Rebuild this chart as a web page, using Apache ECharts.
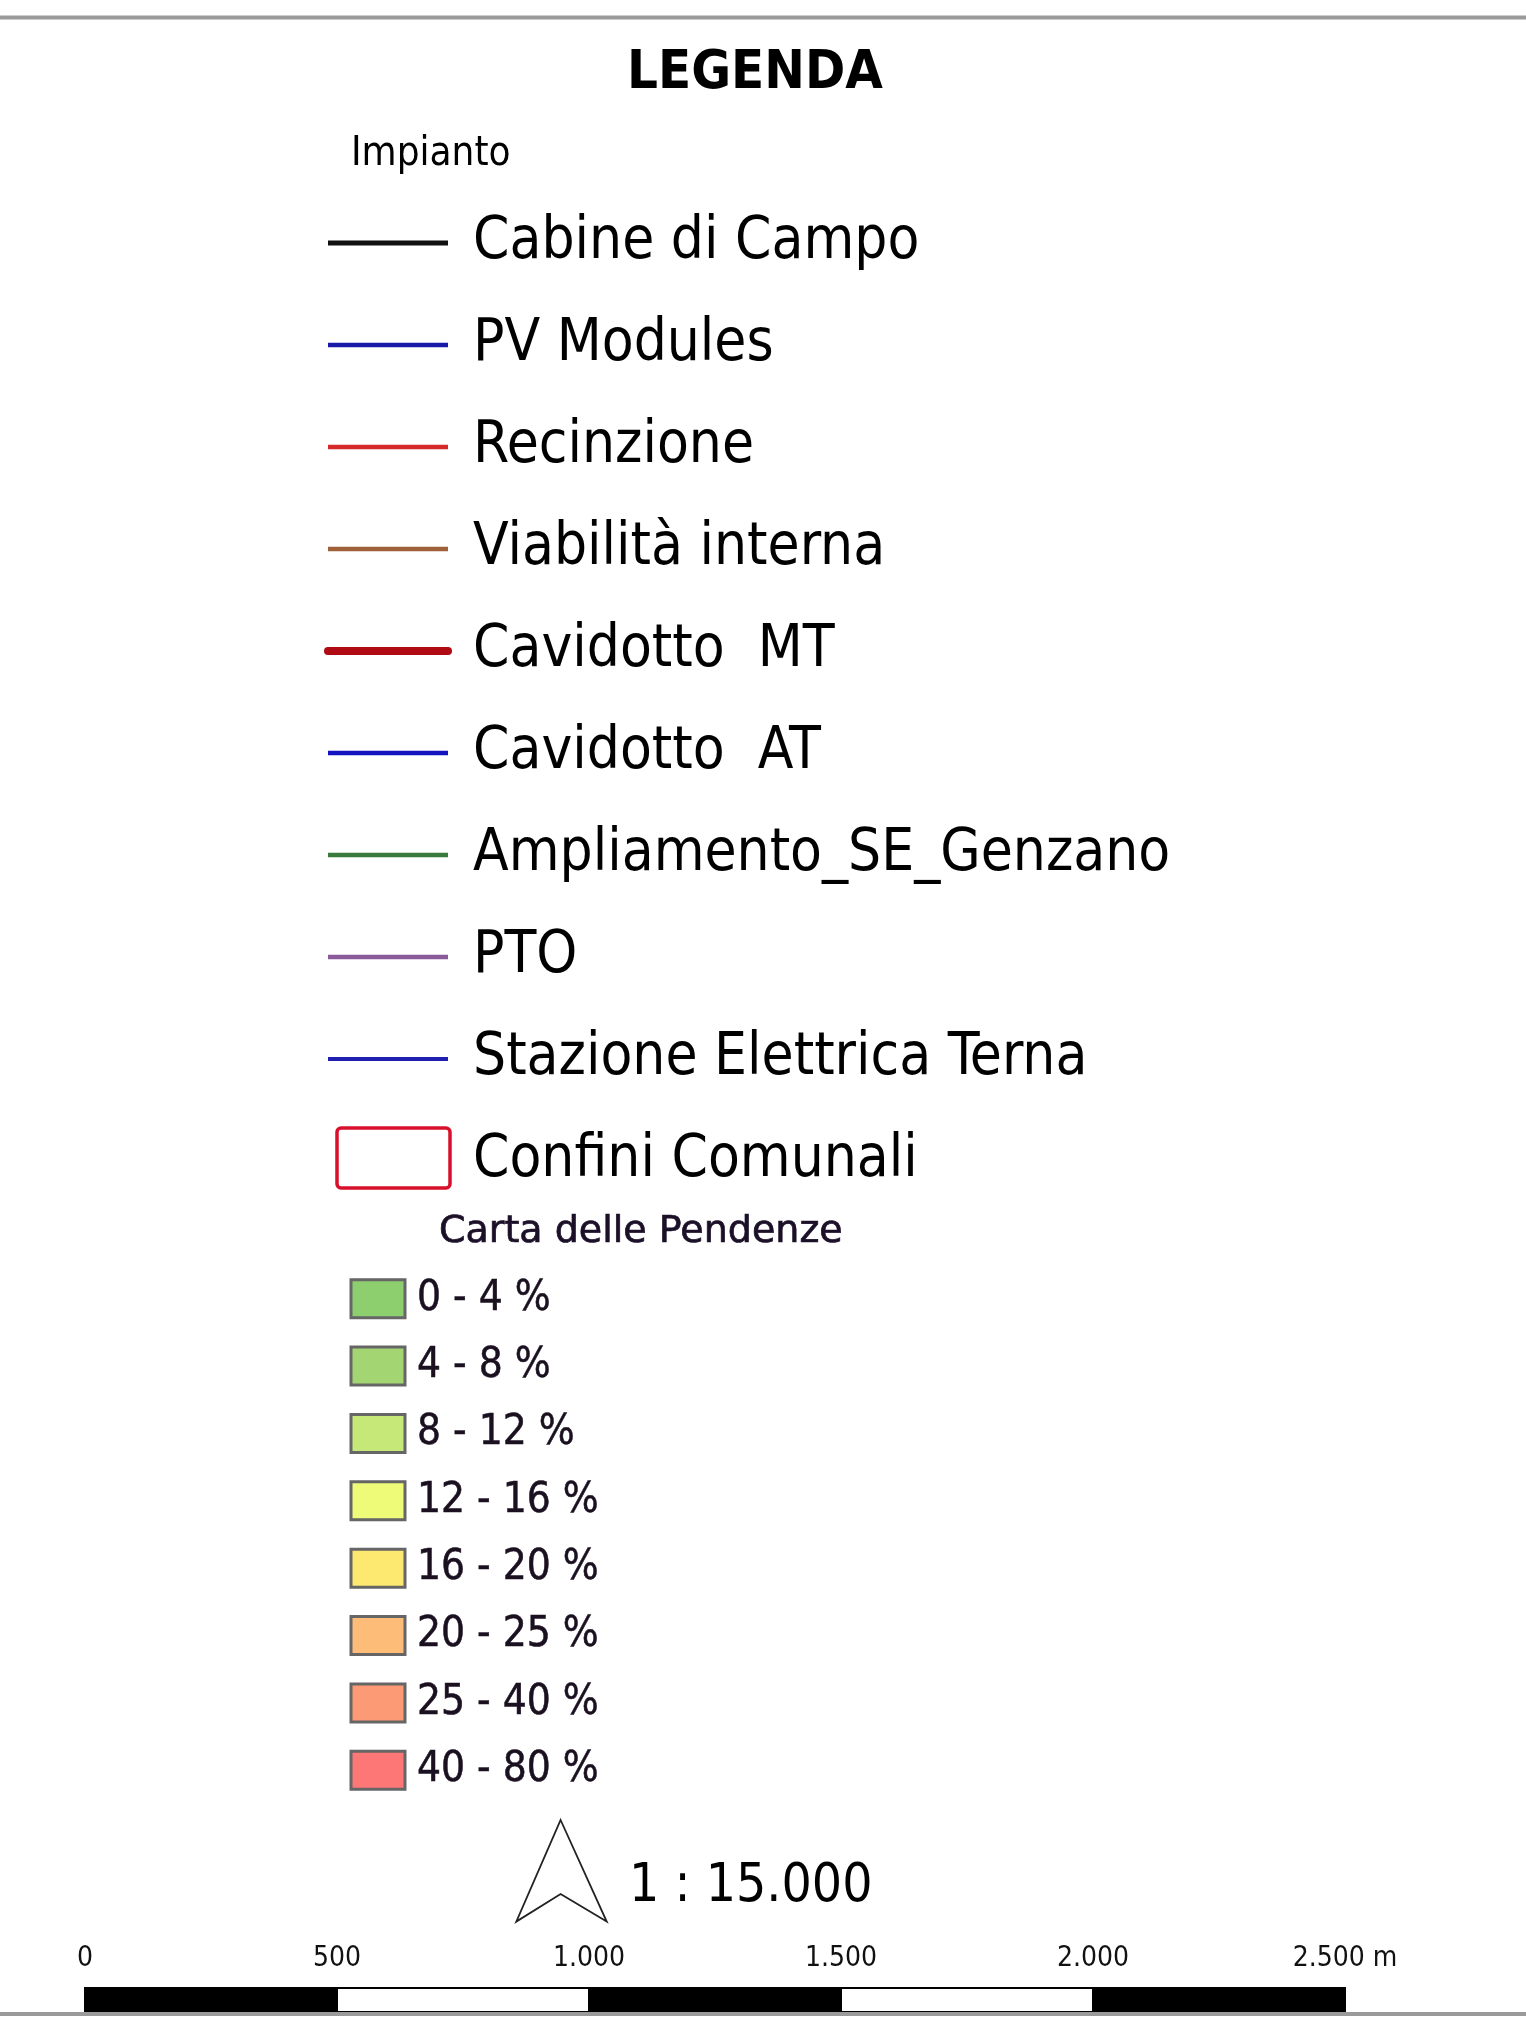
<!DOCTYPE html>
<html>
<head>
<meta charset="utf-8">
<title>Legenda</title>
<script src="https://cdn.jsdelivr.net/npm/echarts@6/dist/echarts.min.js"></script>
<style>
html, body { margin: 0; padding: 0; background: #fff; }
#main { width: 1526px; height: 2022px; }
</style>
</head>
<body>
<div id="main"></div>
<script>
// voci del gruppo "Impianto"
const impiantoItems = ['Cabine di Campo', 'PV Modules', 'Recinzione', 'Viabilità interna', 'Cavidotto  MT',
    'Cavidotto  AT', 'Ampliamento_SE_Genzano', 'PTO', 'Stazione Elettrica Terna', 'Confini Comunali'];
const impiantoKinds = ['line', 'line', 'line', 'line', 'line', 'line', 'line', 'line', 'line', 'box'];
// classi della carta delle pendenze
const pendenzeClasses = ['0 - 4 %', '4 - 8 %', '8 - 12 %', '12 - 16 %', '16 - 20 %', '20 - 25 %', '25 - 40 %', '40 - 80 %'];
// scala grafica in metri
const scaleTicks = [0, 500, 1000, 1500, 2000, 2500];
const scaleLabels = ['0', '500', '1.000', '1.500', '2.000', '2.500 m'];

// stili
const impiantoColors = ['#111111', '#1a1aa8', '#d42a2a', '#a0603a', '#b00a14', '#1212c0', '#3a7a3a', '#8a5a9a', '#2020b0', '#d8102c'];
const impiantoWidths = [5, 4.5, 4.5, 4.5, 8, 4.5, 4.5, 4.5, 4, 3.5];
const pendenzeColors = ['#8dcf6e', '#a3d673', '#c6e878', '#eefb78', '#fde870', '#fdbd78', '#fc9a75', '#fd7777'];

const COND = "'DejaVu Sans Condensed', 'DejaVu Sans', sans-serif";
const REG = "'DejaVu Sans', sans-serif";

const chart = echarts.init(document.getElementById('main'));

chart.setOption({
    backgroundColor: '#fff',
    animation: false,
    grid: [
        { left: 328, width: 120, top: 192, height: 1020 },
        { left: 351, width: 54, top: 1265, height: 539 },
        { left: 85, width: 1260, top: 1988, height: 24 }
    ],
    xAxis: [
        { gridIndex: 0, type: 'value', min: 0, max: 1, show: false },
        { gridIndex: 1, type: 'value', min: 0, max: 1, show: false },
        {
            gridIndex: 2, type: 'value', min: 0, max: 2500, interval: 500, position: 'top',
            axisLine: { show: false }, axisTick: { show: false }, splitLine: { show: false },
            axisLabel: {
                margin: 29, verticalAlign: 'middle', fontSize: 28, fontFamily: COND, color: '#111',
                formatter: v => scaleLabels[scaleTicks.indexOf(v)]
            }
        }
    ],
    yAxis: [
        {
            gridIndex: 0, type: 'category', data: impiantoItems, inverse: true, position: 'right',
            axisLine: { show: false }, axisTick: { show: false }, splitLine: { show: false },
            axisLabel: { margin: 25, fontSize: 58, fontFamily: COND, color: '#000' }
        },
        {
            gridIndex: 1, type: 'category', data: pendenzeClasses, inverse: true, position: 'right',
            axisLine: { show: false }, axisTick: { show: false }, splitLine: { show: false },
            axisLabel: {
                margin: 12, fontSize: 42, fontFamily: COND, color: '#1a1020',
                textBorderColor: '#1a1020', textBorderWidth: 0.5
            }
        },
        { gridIndex: 2, type: 'value', min: 0, max: 1, show: false }
    ],
    series: [
        {
            // campioni di linea e riquadro dei confini
            type: 'custom',
            xAxisIndex: 0, yAxisIndex: 0,
            data: impiantoItems.map((n, i) => [0, 1, i]),
            encode: { x: [0, 1], y: 2 },
            renderItem: (params, api) => {
                const i = api.value(2);
                const p0 = api.coord([api.value(0), i]);
                const p1 = api.coord([api.value(1), i]);
                if (impiantoKinds[i] === 'box') {
                    return {
                        type: 'rect',
                        shape: { x: p0[0] + 9, y: p0[1] - 33, width: p1[0] - p0[0] - 7, height: 60, r: 4 },
                        style: { fill: '#fff', stroke: impiantoColors[i], lineWidth: impiantoWidths[i] }
                    };
                }
                return {
                    type: 'line',
                    shape: { x1: p0[0], y1: p0[1], x2: p1[0], y2: p1[1] },
                    style: {
                        stroke: impiantoColors[i], lineWidth: impiantoWidths[i],
                        lineCap: impiantoWidths[i] > 6 ? 'round' : 'butt'
                    }
                };
            }
        },
        {
            // riquadri colorati delle pendenze
            type: 'custom',
            xAxisIndex: 1, yAxisIndex: 1,
            data: pendenzeClasses.map((n, i) => [0, 1, i]),
            encode: { x: [0, 1], y: 2 },
            renderItem: (params, api) => {
                const i = api.value(2);
                const p0 = api.coord([api.value(0), i]);
                const p1 = api.coord([api.value(1), i]);
                return {
                    type: 'rect',
                    shape: { x: p0[0], y: p0[1] - 19, width: p1[0] - p0[0], height: 38 },
                    style: { fill: pendenzeColors[i], stroke: '#666', lineWidth: 3 }
                };
            }
        },
        {
            // barra della scala
            type: 'custom',
            xAxisIndex: 2, yAxisIndex: 2,
            data: scaleTicks.slice(0, -1).map((t, i) => [t, scaleTicks[i + 1], 0, 1]),
            encode: { x: [0, 1], y: [2, 3] },
            renderItem: (params, api) => {
                const a = api.coord([api.value(0), api.value(3)]);
                const b = api.coord([api.value(1), api.value(2)]);
                return {
                    type: 'rect',
                    shape: { x: a[0], y: a[1], width: b[0] - a[0], height: b[1] - a[1] },
                    style: { fill: params.dataIndex % 2 === 0 ? '#000' : '#fff', stroke: '#000', lineWidth: 2 }
                };
            }
        }
    ],
    graphic: [
        { type: 'line', shape: { x1: 0, y1: 17.5, x2: 1526, y2: 17.5 }, style: { stroke: '#9a9a9a', lineWidth: 4 } },
        { type: 'line', shape: { x1: 0, y1: 2014, x2: 1526, y2: 2014 }, style: { stroke: '#9a9a9a', lineWidth: 4 }, z: 100 },
        {
            type: 'text', x: 755, y: 74,
            style: { text: 'LEGENDA', font: "bold 54px " + COND, fill: '#000', align: 'center', verticalAlign: 'middle' }
        },
        {
            type: 'text', x: 351, y: 155,
            style: { text: 'Impianto', font: "40px " + COND, fill: '#000', align: 'left', verticalAlign: 'middle' }
        },
        {
            type: 'text', x: 439, y: 1232,
            style: {
                text: 'Carta delle Pendenze', font: "38px " + REG, fill: '#1c1028',
                stroke: '#1c1028', lineWidth: 0.7, align: 'left', verticalAlign: 'middle'
            }
        },
        {
            // freccia del nord
            type: 'polygon',
            shape: { points: [[560.6, 1820], [606.7, 1921.6], [560.6, 1894], [516.3, 1921.6]] },
            style: { fill: '#fff', stroke: '#222', lineWidth: 1.8 }
        },
        {
            type: 'text', x: 629, y: 1887,
            style: { text: '1 : 15.000', font: "53px " + COND, fill: '#000', align: 'left', verticalAlign: 'middle' }
        }
    ]
});
</script>
</body>
</html>
